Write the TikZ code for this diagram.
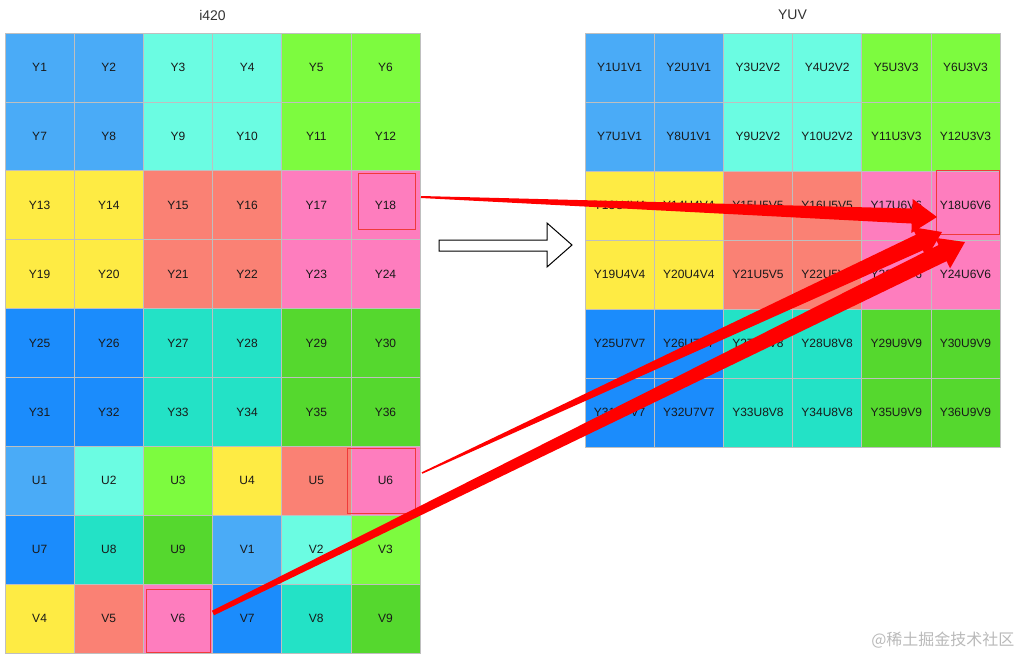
\documentclass[tikz,border=0pt]{standalone}
\usepackage{fontspec}
\setmainfont{Liberation Sans}
\newfontfamily\cjkfont{Noto Sans CJK SC}
\usetikzlibrary{calc,positioning}

% one colour per U/V sample
\definecolor{pix1}{HTML}{4AABF7}
\definecolor{pix2}{HTML}{6BFCE2}
\definecolor{pix3}{HTML}{7DFB3F}
\definecolor{pix4}{HTML}{FEEB44}
\definecolor{pix5}{HTML}{FA8174}
\definecolor{pix6}{HTML}{FE7DBE}
\definecolor{pix7}{HTML}{1B8CFC}
\definecolor{pix8}{HTML}{23E2C6}
\definecolor{pix9}{HTML}{55D82E}
\definecolor{hired}{HTML}{F03A3A}

% tapered red arrow: tail, tip, tail half width, shaft half width
\newcommand{\taperarrow}[4]{%
  \coordinate (tb) at ($(#2)!25pt!(#1)$);
  \fill[red] ($(#1)!#3!90:(#2)$) -- ($(tb)!#4!90:(#2)$) -- ($(tb)!17pt!90:(#2)$) -- (#2)
    -- ($(tb)!17pt!-90:(#2)$) -- ($(tb)!#4!-90:(#2)$) -- ($(#1)!#3!-90:(#2)$) -- cycle;
}

\begin{document}
\begin{tikzpicture}[
  x=1pt, y=-1pt,
  cell/.style={draw=gray!50, line width=0.6pt, minimum width=69.17pt, minimum height=68.89pt, inner sep=0pt, text=black!90, font=\fontsize{12}{14}\selectfont},
  rcell/.style={cell, minimum width=69.17pt, minimum height=69pt},
  hilite/.style={draw=hired, line width=1pt, inner sep=0pt},
  title/.style={text=black!80, font=\fontsize{14}{16}\selectfont}
]
\useasboundingbox (0,0) rectangle (1024,659);

\node[title] (t-i420) at (212.5,15) {i420};
\node[title] (t-yuv) at (792.5,15) {YUV};

% i420 planes
\foreach \n in {1,...,36} {
  \pgfmathtruncatemacro\r{div(\n-1,6)}
  \pgfmathtruncatemacro\c{mod(\n-1,6)}
  \pgfmathtruncatemacro\k{3*div(\r,2)+div(\c,2)+1}
  \node[cell, fill=pix\k] (Y\n) at ({5+69.17*(\c+0.5)},{33+68.89*(\r+0.5)}) {Y\n};
  \node[rcell, fill=pix\k] (R\n) at ({585+69.17*(\c+0.5)},{33+69*(\r+0.5)}) {Y\n U\k V\k};
}
\foreach \i in {0,...,17} {
  \pgfmathtruncatemacro\r{6+div(\i,6)}
  \pgfmathtruncatemacro\c{mod(\i,6)}
  \pgfmathtruncatemacro\k{mod(\i,9)+1}
  \ifnum\i<9 \def\pl{U}\else \def\pl{V}\fi
  \node[cell, fill=pix\k] (\pl\k) at ({5+69.17*(\c+0.5)},{33+68.89*(\r+0.5)}) {\pl\k};
}

% picked samples
\node[hilite, minimum width=57pt, minimum height=56pt] (box-Y18) at (386.5,201) {};
\node[hilite, minimum width=68pt, minimum height=65pt] (box-U6) at (381,480.5) {};
\node[hilite, minimum width=64pt, minimum height=63pt] (box-V6) at (178,620.5) {};
\node[hilite, minimum width=63pt, minimum height=64pt] (box-R18) at (967.5,202) {};

% conversion arrow
\draw[line width=1pt, line join=miter] (439,240) -- (547,240) -- (547,223) -- (572,245)
  -- (547,267) -- (547,251) -- (439,251) -- cycle;

\coordinate (tail1) at (421,197);
\coordinate (tail2) at (422,473);
\coordinate (tail3) at (213,613);
\coordinate (tip1) at (937,217);
\coordinate (tip2) at (942,232);
\coordinate (tip3) at (965,242);
\taperarrow{tail1}{tip1}{1pt}{7.5pt}
\taperarrow{tail2}{tip2}{0.8pt}{8.5pt}
\taperarrow{tail3}{tip3}{2.5pt}{9pt}

\node[text=gray!55, font=\cjkfont\fontsize{16}{18}\selectfont, anchor=east] (wm) at (1018,640) {@稀土掘金技术社区};
\end{tikzpicture}
\end{document}
